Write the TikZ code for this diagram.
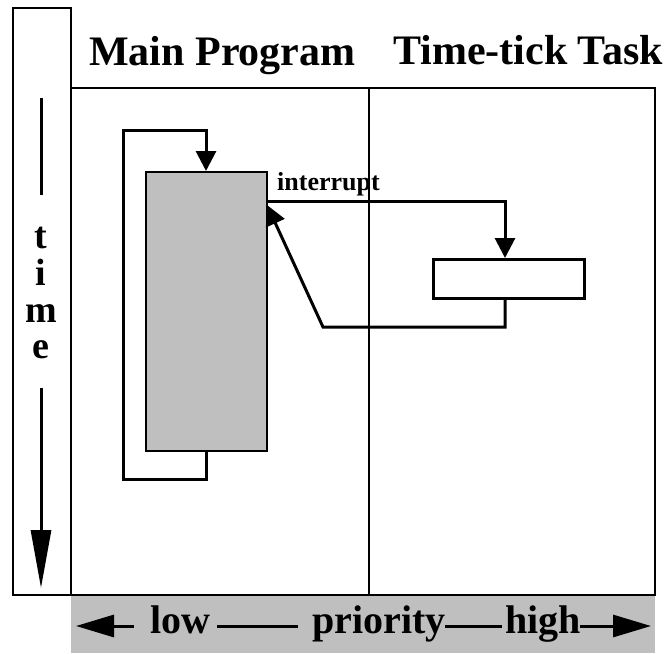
\documentclass[tikz,border=0pt]{standalone}
\usepackage{fontspec}
\setmainfont{Liberation Serif}
\usetikzlibrary{arrows.meta}
\definecolor{boxgray}{RGB}{191,191,191}
\tikzset{
  frameline/.style={line width=2pt},
  flow/.style={line width=3pt,-{Triangle[width=20pt,length=20pt]}},
  heading/.style={anchor=base west,inner sep=0pt,font=\fontsize{42}{42}\selectfont\bfseries},
  barlabel/.style={anchor=base west,inner sep=0pt,font=\fontsize{40}{40}\selectfont\bfseries},
  timeletter/.style={anchor=base,inner sep=0pt,font=\fontsize{38}{38}\selectfont\bfseries},
}
\begin{document}
\begin{tikzpicture}[x=1pt,y=-1pt]
\useasboundingbox (0,0) rectangle (671,653);
% gray priority bar
\fill[boxgray] (71,595) rectangle (655,653);
% time box
\draw[frameline] (13,8) rectangle (71,595);
% main frame
\draw[frameline] (71,88) -- (655,88) -- (655,595) -- (71,595);
\draw[frameline] (369,88) -- (369,595);
% headings
\node[heading] (hmain) at (89,65) {Main Program};
\node[heading] (htask) at (393,64) {Time-tick Task};
% time label
\node[timeletter] (t1) at (41,248) {t};
\node[timeletter] (t2) at (41,285) {i};
\node[timeletter] (t3) at (41,322) {m};
\node[timeletter] (t4) at (41,358) {e};
\coordinate (ttop) at (41,98);
\coordinate (tup) at (41,195);
\coordinate (tdown) at (41,388);
\coordinate (ttip) at (41,588);
\draw[line width=3pt] (ttop) -- (tup);
\draw[line width=3pt,-{Triangle[width=20pt,length=58pt]}] (tdown) -- (ttip);
% main program block
\node[draw,fill=boxgray,line width=2pt,minimum width=121pt,minimum height=279pt,inner sep=0pt,anchor=north west] (mp) at (145,171) {};
% loop
\coordinate (lb1) at (206,479);
\coordinate (lb2) at (123,479);
\coordinate (lt1) at (123,130);
\coordinate (lt2) at (206,130);
\draw[flow] (mp.south -| lb1) -- (lb1) -- (lb2) -- (lt1) -- (lt2) -- (lt2 |- mp.north);
% task block
\node[draw,line width=3pt,minimum width=151pt,minimum height=39pt,inner sep=0pt,anchor=north west] (tt) at (432,258) {};
% interrupt
\coordinate (i0) at (266,201);
\coordinate (i1) at (505,201);
\draw[flow] (i0) -- (i1) -- (i1 |- tt.north);
\node[anchor=base west,inner sep=0pt,font=\fontsize{26}{26}\selectfont\bfseries] (intr) at (277,190) {interrupt};
% return
\coordinate (r1) at (505,327);
\coordinate (r2) at (323,327);
\coordinate (rtip) at (267,205);
\draw[flow] (r1 |- tt.south) -- (r1) -- (r2) -- (rtip);
% priority bar
\node[barlabel] (low) at (150,633) {low};
\node[barlabel] (pri) at (312,633) {priority};
\node[barlabel] (high) at (505,633) {high};
\coordinate (la) at (76,626);
\coordinate (lb) at (134,626);
\coordinate (ra) at (580,626);
\coordinate (rb) at (651,626);
\coordinate (m1) at (217,626);
\coordinate (m2) at (298,626);
\coordinate (m3) at (445,626);
\coordinate (m4) at (502,626);
\draw[line width=3pt,{Triangle[width=22pt,length=38pt]}-] (la) -- (lb);
\draw[line width=3pt] (m1) -- (m2);
\draw[line width=3pt] (m3) -- (m4);
\draw[line width=3pt,-{Triangle[width=22pt,length=38pt]}] (ra) -- (rb);
\end{tikzpicture}
\end{document}
